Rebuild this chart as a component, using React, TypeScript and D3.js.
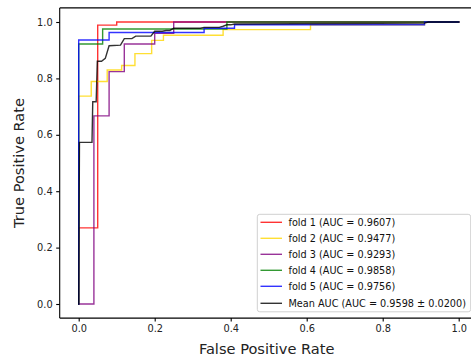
import React, { useEffect, useRef } from 'react';
import { axisBottom, axisLeft, format, line, scaleLinear, select } from 'd3';

// ROC curves, one pair of arrays per fold
const fold1Fpr = [0, 0, 0.05, 0.05, 0.1, 0.1, 1];
const fold1Tpr = [0, 0.27, 0.27, 0.989, 0.989, 1, 1];

const fold2Fpr = [0, 0, 0.033, 0.033, 0.075, 0.075, 0.113, 0.113, 0.148, 0.148, 0.192, 0.192, 0.223, 0.223, 0.38, 0.38, 0.61, 0.61, 0.91, 0.91, 1];
const fold2Tpr = [0, 0.737, 0.737, 0.789, 0.789, 0.83, 0.83, 0.846, 0.846, 0.888, 0.888, 0.935, 0.935, 0.953, 0.953, 0.973, 0.973, 0.99, 0.99, 1, 1];

const fold3Fpr = [0, 0.04, 0.04, 0.08, 0.08, 0.12, 0.12, 0.2, 0.2, 0.25, 0.25, 1];
const fold3Tpr = [0, 0, 0.667, 0.667, 0.824, 0.824, 0.922, 0.922, 0.96, 0.96, 1, 1];

const fold4Fpr = [0, 0, 0.063, 0.063, 0.39, 0.39, 1];
const fold4Tpr = [0, 0.922, 0.922, 0.975, 0.975, 1, 1];

const fold5Fpr = [0, 0, 0.08, 0.08, 0.33, 0.33, 0.41, 0.41, 0.91, 0.91, 1];
const fold5Tpr = [0, 0.936, 0.936, 0.963, 0.963, 0.978, 0.978, 0.99, 0.99, 1, 1];

const meanFpr = [0, 0.002, 0.035, 0.037, 0.046, 0.049, 0.06, 0.07, 0.08, 0.11, 0.12, 0.14, 0.15, 0.19, 0.2, 0.22, 0.23, 0.24, 0.25, 0.32, 0.33, 0.37, 0.38, 0.39, 0.4, 0.41, 0.91, 0.92, 1];
const meanTpr = [0, 0.573, 0.573, 0.717, 0.717, 0.861, 0.861, 0.871, 0.916, 0.918, 0.941, 0.941, 0.95, 0.95, 0.967, 0.967, 0.97, 0.97, 0.978, 0.978, 0.981, 0.981, 0.985, 0.99, 0.99, 0.993, 0.996, 1, 1];

const seriesLabels = [
    'fold 1 (AUC = 0.9607)',
    'fold 2 (AUC = 0.9477)',
    'fold 3 (AUC = 0.9293)',
    'fold 4 (AUC = 0.9858)',
    'fold 5 (AUC = 0.9756)',
    'Mean AUC (AUC = 0.9598 ± 0.0200)',
];
const seriesColors = ['#ff0000', '#ffd700', '#800080', '#008000', '#0000ff', '#000000'];
const tickValues = [0, 0.2, 0.4, 0.6, 0.8, 1.0];

const W = 471;
const H = 360;
const FONT = '"DejaVu Sans", sans-serif';

export default function App() {
    const svgRef = useRef<SVGSVGElement>(null);

    useEffect(() => {
        const svg = select(svgRef.current);
        svg.selectAll('*').remove();

        // axes box, the right edge falls outside the picture
        const left = 59.7, right = 477.7, top = 7.9, bottom = 318.1;
        const xScale = scaleLinear().domain([-0.05, 1.05]).range([left, right]);
        const yScale = scaleLinear().domain([-0.05, 1.05]).range([bottom, top]);

        const series = [
            [fold1Fpr, fold1Tpr],
            [fold2Fpr, fold2Tpr],
            [fold3Fpr, fold3Tpr],
            [fold4Fpr, fold4Tpr],
            [fold5Fpr, fold5Tpr],
            [meanFpr, meanTpr],
        ].map(([fpr, tpr]) => fpr.map((f, i) => [f, tpr[i]] as [number, number]));

        const rocLine = line<[number, number]>()
            .x((d) => xScale(d[0]))
            .y((d) => yScale(d[1]));

        svg.append('g')
            .selectAll('path')
            .data(series)
            .join('path')
            .attr('d', (d) => rocLine(d))
            .attr('fill', 'none')
            .attr('stroke', (_, i) => seriesColors[i])
            .attr('stroke-opacity', 0.8)
            .attr('stroke-width', 1.4)
            .attr('stroke-linejoin', 'miter')
            .attr('stroke-linecap', 'square');

        // spines
        const spines = svg.append('g').attr('stroke', '#000').attr('stroke-width', 1.1);
        spines.append('line').attr('x1', left).attr('x2', left).attr('y1', top).attr('y2', bottom);
        spines.append('line').attr('x1', left).attr('x2', right).attr('y1', top).attr('y2', top);
        spines.append('line').attr('x1', left).attr('x2', right).attr('y1', bottom).attr('y2', bottom);

        // axes
        const xAxis = axisBottom(xScale).tickValues(tickValues).tickFormat(format('.1f')).tickSize(3.5).tickPadding(3.5);
        const yAxis = axisLeft(yScale).tickValues(tickValues).tickFormat(format('.1f')).tickSize(3.5).tickPadding(3.5);

        const gx = svg.append('g').attr('transform', `translate(0,${bottom})`).call(xAxis);
        const gy = svg.append('g').attr('transform', `translate(${left},0)`).call(yAxis);
        [gx, gy].forEach((g) => {
            g.select('.domain').remove();
            g.selectAll('line').attr('stroke', '#000').attr('stroke-width', 1.1);
            g.selectAll('text').attr('font-family', FONT).attr('font-size', 9.8).attr('fill', '#222');
        });

        // axis titles
        svg.append('text')
            .attr('x', (left + right) / 2 - 2)
            .attr('y', 354)
            .attr('text-anchor', 'middle')
            .attr('font-family', FONT)
            .attr('font-size', 14.6)
            .attr('fill', '#222')
            .text('False Positive Rate');

        svg.append('text')
            .attr('transform', `translate(23.8,${(top + bottom) / 2}) rotate(-90)`)
            .attr('text-anchor', 'middle')
            .attr('font-family', FONT)
            .attr('font-size', 14.6)
            .attr('fill', '#222')
            .text('True Positive Rate');

        // legend
        const legend = svg.append('g');
        legend.append('rect')
            .attr('x', 257.3)
            .attr('y', 214.3)
            .attr('width', 213.4)
            .attr('height', 97.5)
            .attr('rx', 2.5)
            .attr('fill', '#fff')
            .attr('fill-opacity', 0.8)
            .attr('stroke', '#d0d0d0')
            .attr('stroke-width', 1);

        const rowY = [222.3, 238.3, 254.3, 270.3, 286.3, 303.3];
        const rows = legend.selectAll('g.row')
            .data(seriesLabels)
            .join('g')
            .attr('class', 'row')
            .attr('transform', (_, i) => `translate(0,${rowY[i]})`);

        rows.append('line')
            .attr('x1', 260.5)
            .attr('x2', 282)
            .attr('stroke', (_, i) => seriesColors[i])
            .attr('stroke-opacity', 0.8)
            .attr('stroke-width', 1.4);

        rows.append('text')
            .attr('x', 288.5)
            .attr('dy', '0.35em')
            .attr('font-family', FONT)
            .attr('font-size', 9.7)
            .attr('fill', '#111')
            .text((d) => d);
    }, []);

    return (
        <svg ref={svgRef} width={W} height={H} style={{ position: 'absolute', left: 0, top: 0, background: '#fff' }} />
    );
}
